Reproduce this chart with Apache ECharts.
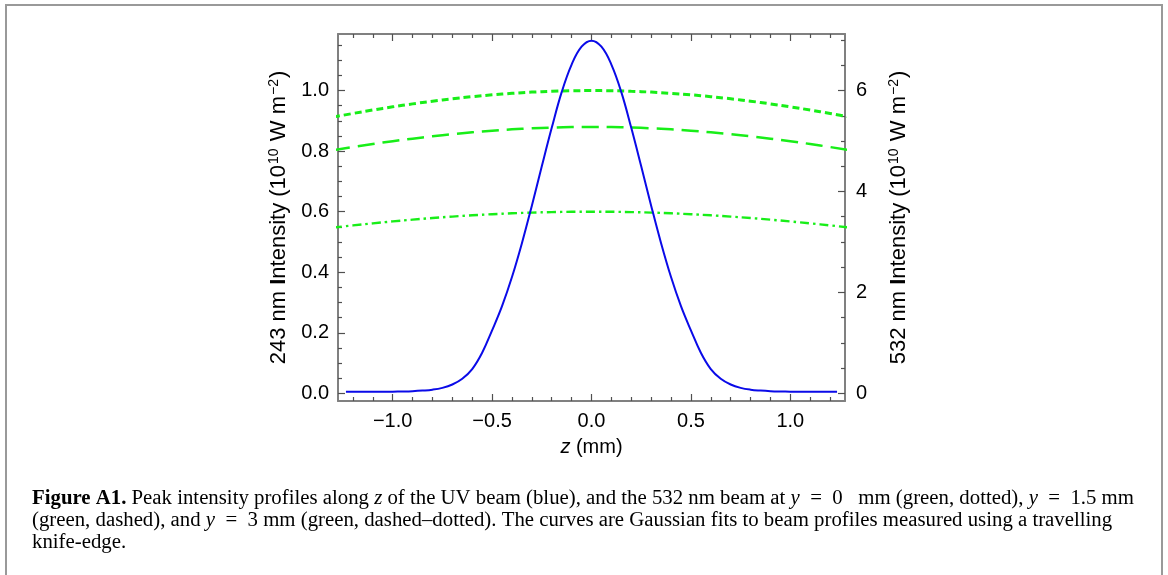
<!DOCTYPE html>
<html>
<head>
<meta charset="utf-8">
<script src="https://cdn.jsdelivr.net/npm/echarts@6/dist/echarts.min.js"></script>
<style>
html,body{margin:0;padding:0;background:#fff;}
#chart{width:1168px;height:575px;}
</style>
</head>
<body>
<div id="chart"></div>
<script>
// ---- data ----
const zBlue = [-1.235,-1.2,-1.1,-1.0,-0.95,-0.9,-0.85,-0.8,-0.75,-0.7,-0.65,-0.6,-0.55,-0.5,-0.45,-0.4,-0.35,-0.3,-0.25,-0.2,-0.15,-0.1,-0.05,0,
  0.05,0.1,0.15,0.2,0.25,0.3,0.35,0.4,0.45,0.5,0.55,0.6,0.65,0.7,0.75,0.8,0.85,0.9,0.95,1.0,1.1,1.2,1.235];
const uvIntensity = [0.005,0.005,0.005,0.0055,0.006,0.007,0.009,0.012,0.018,0.029,0.048,0.080,0.134,0.208,0.288,0.384,0.496,0.620,0.750,0.877,0.995,1.086,1.145,1.165,
  1.145,1.086,0.995,0.877,0.750,0.620,0.496,0.384,0.288,0.208,0.134,0.080,0.048,0.029,0.018,0.012,0.009,0.007,0.006,0.0055,0.005,0.005,0.005];

const zGreen = [-1.3,-1.2,-1.1,-1.0,-0.9,-0.8,-0.7,-0.6,-0.5,-0.4,-0.3,-0.2,-0.1,0,0.1,0.2,0.3,0.4,0.5,0.6,0.7,0.8,0.9,1.0,1.1,1.2,1.3];
const green_y0 = [5.475,5.547,5.615,5.678,5.737,5.790,5.838,5.880,5.916,5.946,5.970,5.986,5.997,6.000,5.997,5.986,5.970,5.946,5.916,5.880,5.838,5.790,5.737,5.678,5.615,5.547,5.475];
const green_y15 = [4.818,4.881,4.941,4.997,5.048,5.095,5.137,5.174,5.206,5.232,5.253,5.268,5.277,5.280,5.277,5.268,5.253,5.232,5.206,5.174,5.137,5.095,5.048,4.997,4.941,4.881,4.818];
const green_y3 = [3.285,3.328,3.369,3.407,3.442,3.474,3.503,3.528,3.550,3.568,3.582,3.592,3.598,3.600,3.598,3.592,3.582,3.568,3.550,3.528,3.503,3.474,3.442,3.407,3.369,3.328,3.285];

const xMajorTicks = [-1.0,-0.5,0,0.5,1.0];
const xMinorTicks = [-1.2,-1.1,-0.9,-0.8,-0.7,-0.6,-0.4,-0.3,-0.2,-0.1,0.1,0.2,0.3,0.4,0.6,0.7,0.8,0.9,1.1,1.2];
const yLeftMajor = [0,0.2,0.4,0.6,0.8,1.0];
const yLeftMinor = [0.05,0.1,0.15,0.25,0.3,0.35,0.45,0.5,0.55,0.65,0.7,0.75,0.85,0.9,0.95,1.05,1.1,1.15];
const yRightMajor = [0,2,4,6];
const yRightMinor = [0.5,1,1.5,2.5,3,3.5,4.5,5,5.5,6.5,7];

// ---- chart ----
const FONT = 'Liberation Sans';
const axisGrey = '#808080';
const tickGrey = '#505050';
const zip = (a,b) => a.map((v,i)=>[v,b[i]]);
const fmtX = v => (v < 0 ? '\u2212' : '') + Math.abs(v).toFixed(1);

const xRange = {min:-1.275, max:1.275};
const yL = {min:-0.0254, max:1.187};
const yR = {min:-0.1524, max:7.122};

function xAxisDef(pos, ticks, len, withLabels, showLine){
  return Object.assign({
    type:'value', position:pos, splitLine:{show:false},
    axisLine:{show:showLine, onZero:false, lineStyle:{color:axisGrey,width:2}},
    axisTick:{show:true, inside:true, length:len, customValues:ticks, lineStyle:{color:tickGrey,width:1.2}},
    axisLabel:withLabels ? {show:true, customValues:ticks, formatter:fmtX, color:'#000', fontFamily:FONT, fontSize:20, margin:10} : {show:false}
  }, xRange);
}
function yAxisDef(pos, range, ticks, len, withLabels, showLine, fmt, margin){
  return Object.assign({
    type:'value', position:pos, splitLine:{show:false},
    axisLine:{show:showLine, onZero:false, lineStyle:{color:axisGrey,width:2}},
    axisTick:{show:true, inside:true, length:len, customValues:ticks, lineStyle:{color:tickGrey,width:1.2}},
    axisLabel:withLabels ? {show:true, customValues:ticks, formatter:fmt, color:'#000', fontFamily:FONT, fontSize:20, margin:margin} : {show:false}
  }, range);
}

const nameRich = {
  b:{fontFamily:FONT, fontSize:22, fontWeight:'bold', color:'#000'},
  sup:{fontFamily:FONT, fontSize:14, color:'#000', verticalAlign:'top', padding:[0,1,10,1]}
};

const xMain = xAxisDef('bottom', xMajorTicks, 7, true, true);
xMain.name = '{i|z} (mm)';
xMain.nameLocation = 'middle';
xMain.nameGap = 36;
xMain.nameTextStyle = {fontFamily:FONT, fontSize:20, color:'#000', rich:{i:{fontFamily:FONT, fontSize:20, fontStyle:'italic', color:'#000'}}};

const yLeftMain = yAxisDef('left', yL, yLeftMajor, 7, true, true, v => v.toFixed(1), 9);
yLeftMain.name = '243 nm {b|I}ntensity (10{sup|10} W m{sup|\u22122})';
yLeftMain.nameLocation = 'middle';
yLeftMain.nameGap = 47;
yLeftMain.nameTextStyle = {fontFamily:FONT, fontSize:22, color:'#000', rich:nameRich};

const yRightMain = yAxisDef('right', yR, yRightMajor, 7, true, true, v => String(v), 11);
yRightMain.name = '532 nm {b|I}ntensity (10{sup|10} W m{sup|\u22122})';
yRightMain.nameLocation = 'middle';
yRightMain.nameGap = 42;
yRightMain.nameRotate = 90;
yRightMain.nameTextStyle = {fontFamily:FONT, fontSize:22, color:'#000', rich:nameRich};

const serif = 'Liberation Serif';
const CAP = 20.8;
const capRich = {
  fb:{fontFamily:serif, fontSize:CAP, fontWeight:'bold', color:'#000'},
  it:{fontFamily:serif, fontSize:CAP, fontStyle:'italic', color:'#000'}
};
const capStyle = (t, y) => ({type:'text', left:32, top:y, silent:true,
  style:{text:t, fontFamily:serif, fontSize:CAP, fill:'#000', rich:capRich}});
const SP = '\u2002';

const chart = echarts.init(document.getElementById('chart'), null, {renderer:'canvas'});
chart.setOption({
  backgroundColor:'#fff',
  animation:false,
  grid:{left:338, right:323, top:34, bottom:174, containLabel:false},
  xAxis:[
    xMain,
    xAxisDef('bottom', xMinorTicks, 4, false, false),
    xAxisDef('top', xMajorTicks, 7, false, true),
    xAxisDef('top', xMinorTicks, 4, false, false)
  ],
  yAxis:[
    yLeftMain,
    yAxisDef('left', yL, yLeftMinor, 4, false, false),
    yRightMain,
    yAxisDef('right', yR, yRightMinor, 4, false, false)
  ],
  series:[
    {type:'line', name:'UV 243 nm', xAxisIndex:0, yAxisIndex:0, data:zip(zBlue, uvIntensity), smooth:0.4, showSymbol:false,
     lineStyle:{color:'#0a0ae8', width:2}, z:5},
    {type:'line', name:'532 nm y=0 mm', xAxisIndex:0, yAxisIndex:2, data:zip(zGreen, green_y0), smooth:true, showSymbol:false,
     lineStyle:{color:'#18ee18', width:3, type:[7,4]}, clip:true},
    {type:'line', name:'532 nm y=1.5 mm', xAxisIndex:0, yAxisIndex:2, data:zip(zGreen, green_y15), smooth:true, showSymbol:false,
     lineStyle:{color:'#18ee18', width:2.5, type:[17,8]}, clip:true},
    {type:'line', name:'532 nm y=3 mm', xAxisIndex:0, yAxisIndex:2, data:zip(zGreen, green_y3), smooth:true, showSymbol:false,
     lineStyle:{color:'#18ee18', width:2.4, type:[9,4,2.5,4]}, clip:true}
  ],
  graphic:[
    {type:'rect', silent:true, shape:{x:6, y:5, width:1156, height:600},
     style:{fill:'none', stroke:'#999', lineWidth:2}},
    capStyle('{fb|Figure A1.} Peak intensity profiles along {it|z} of the UV beam (blue), and the 532 nm beam at {it|y}' + SP + '=' + SP + '0' + SP + ' mm (green, dotted), {it|y}' + SP + '=' + SP + '1.5 mm', 488),
    capStyle('(green, dashed), and {it|y}' + SP + '=' + SP + '3 mm (green, dashed\u2013dotted). The curves are Gaussian fits to beam profiles measured using a travelling', 510),
    capStyle('knife-edge.', 532)
  ]
});
</script>
</body>
</html>
